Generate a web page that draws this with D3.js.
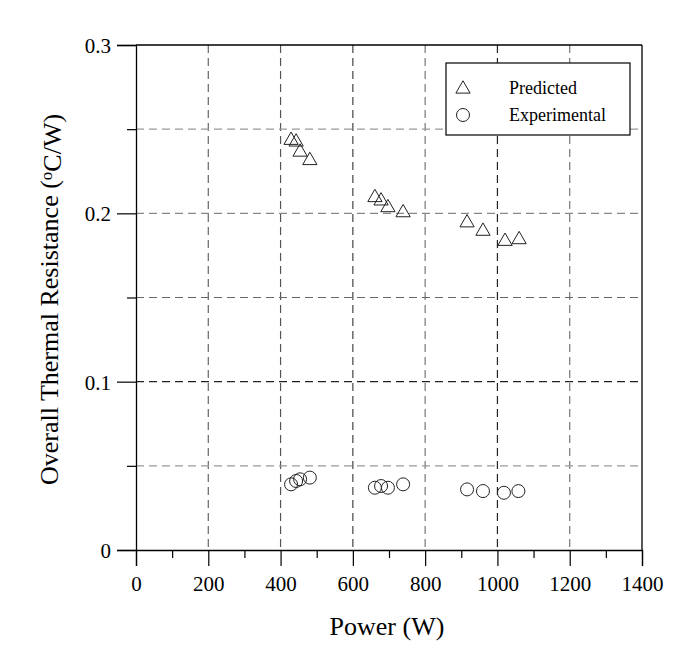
<!DOCTYPE html>
<html>
<head>
<meta charset="utf-8">
<script src="https://cdn.jsdelivr.net/npm/d3@7/dist/d3.min.js"></script>
<style>
  html, body { margin: 0; padding: 0; background: #fff; }
  svg { display: block; }
  text { font-family: "Liberation Serif", "Times New Roman", serif; fill: #000; }
</style>
</head>
<body>
<svg id="chart" width="696" height="654"></svg>
<script>
// ---- data ----
const predictedPower = [429, 443, 454, 481, 661, 678, 697, 739, 916, 960, 1021, 1060];
const predictedResistance = [0.244, 0.243, 0.237, 0.232, 0.210, 0.208, 0.204, 0.201, 0.195, 0.190, 0.184, 0.185];
const experimentalPower = [429, 443, 454, 481, 661, 678, 697, 739, 916, 960, 1018, 1058];
const experimentalResistance = [0.039, 0.041, 0.042, 0.043, 0.037, 0.038, 0.037, 0.039, 0.036, 0.035, 0.034, 0.035];
const xTicks = [0, 200, 400, 600, 800, 1000, 1200, 1400];
const xMinorTicks = [100, 300, 500, 700, 900, 1100, 1300];
const yTicks = [0, 0.1, 0.2, 0.3];
const yMinorTicks = [0.05, 0.15, 0.25];
const xGrid = [200, 400, 600, 800, 1000, 1200];
const yGrid = [0.05, 0.1, 0.15, 0.2, 0.25];
const seriesNames = ["Predicted", "Experimental"];

// ---- layout ----
const svg = d3.select("#chart");
const L = 136, R = 642, T = 45, B = 550;
const x = d3.scaleLinear().domain([0, 1400]).range([L, R]);
const y = d3.scaleLinear().domain([0, 0.3]).range([B, T]);

const vGridColor = v => ({200: "#666", 400: "#555", 600: "#444", 800: "#777", 1000: "#222", 1200: "#777"})[v] || "#666";
const hGridColor = v => ({0.05: "#999", 0.1: "#222", 0.15: "#666", 0.2: "#888", 0.25: "#999"})[v] || "#777";

// grid
svg.append("g").selectAll("line").data(xGrid).join("line")
  .attr("x1", d => x(d)).attr("x2", d => x(d)).attr("y1", T).attr("y2", B)
  .attr("stroke", d => vGridColor(d)).attr("stroke-width", 1.2).attr("stroke-dasharray", "8,5");
svg.append("g").selectAll("line").data(yGrid).join("line")
  .attr("x1", L).attr("x2", R).attr("y1", d => y(d)).attr("y2", d => y(d))
  .attr("stroke", d => hGridColor(d)).attr("stroke-width", 1.2).attr("stroke-dasharray", "8,5");

// axes
const xAxis = svg.append("g").attr("transform", `translate(0,${B})`)
  .call(d3.axisBottom(x).tickValues(xTicks).tickSize(16).tickPadding(10).tickFormat(d3.format("d")));
svg.append("g").attr("transform", `translate(0,${B})`)
  .call(d3.axisBottom(x).tickValues(xMinorTicks).tickSize(8).tickFormat(""))
  .select(".domain").remove();
const yAxis = svg.append("g").attr("transform", `translate(${L},0)`)
  .call(d3.axisLeft(y).tickValues(yTicks).tickSize(19).tickPadding(6).tickFormat(d => d === 0 ? "0" : d3.format(".1f")(d)));
svg.append("g").attr("transform", `translate(${L},0)`)
  .call(d3.axisLeft(y).tickValues(yMinorTicks).tickSize(9).tickFormat(""))
  .select(".domain").remove();

svg.selectAll(".domain").attr("stroke", "#000").attr("stroke-width", 1.3);
svg.selectAll(".tick line").attr("stroke", "#000").attr("stroke-width", 1.2);
svg.selectAll(".tick text").style("font-family", "'Liberation Serif', serif").style("font-size", "21px").attr("fill", "#000");
yAxis.selectAll(".tick text").attr("dy", "0.35em");

// frame top & right
svg.append("line").attr("x1", L).attr("x2", R).attr("y1", T).attr("y2", T).attr("stroke", "#000").attr("stroke-width", 1.3);
svg.append("line").attr("x1", R).attr("x2", R).attr("y1", T).attr("y2", B).attr("stroke", "#000").attr("stroke-width", 1.3);

// markers
const tri = d3.symbol().type(d3.symbolTriangle).size(88);
svg.append("g").selectAll("path").data(predictedPower.map((p, i) => [p, predictedResistance[i]])).join("path")
  .attr("d", tri).attr("transform", d => `translate(${x(d[0])},${y(d[1]) + 1})`)
  .attr("fill", "none").attr("stroke", "#222").attr("stroke-width", 1);
svg.append("g").selectAll("circle").data(experimentalPower.map((p, i) => [p, experimentalResistance[i]])).join("circle")
  .attr("cx", d => x(d[0])).attr("cy", d => y(d[1])).attr("r", 6.5)
  .attr("fill", "none").attr("stroke", "#222").attr("stroke-width", 1);

// legend
const lg = svg.append("g");
lg.append("rect").attr("x", 446).attr("y", 63).attr("width", 184).attr("height", 72)
  .attr("fill", "#fff").attr("stroke", "#000").attr("stroke-width", 1.2);
lg.append("path").attr("d", tri).attr("transform", "translate(463,89)").attr("fill", "none").attr("stroke", "#222");
lg.append("circle").attr("cx", 463).attr("cy", 115).attr("r", 6.5).attr("fill", "none").attr("stroke", "#222");
lg.selectAll("text").data(seriesNames).join("text")
  .attr("x", 509).attr("y", (d, i) => 94 + i * 27).style("font-size", "18px").text(d => d);

// axis titles
svg.append("text").attr("x", (L + R) / 2 - 2).attr("y", 635).attr("text-anchor", "middle")
  .style("font-size", "26px").text("Power (W)");
const yt = svg.append("text").attr("transform", `translate(58,${(T + B) / 2 + 2}) rotate(-90)`)
  .attr("text-anchor", "middle").style("font-size", "26px");
yt.append("tspan").text("Overall Thermal Resistance (");
yt.append("tspan").attr("dy", "-0.35em").style("font-size", "17px").text("o");
yt.append("tspan").attr("dy", "0.35em").text("C/W)");
</script>
</body>
</html>
